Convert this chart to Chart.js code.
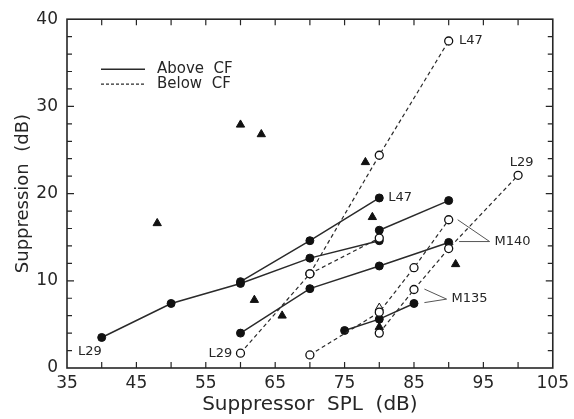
<!DOCTYPE html>
<html>
<head>
<meta charset="utf-8">
<script src="https://cdn.jsdelivr.net/npm/chart.js@4.4.0/dist/chart.umd.min.js"></script>
<style>
body{margin:0;background:#fff}
#wrap{width:574px;height:419px}
</style>
</head>
<body>
<div id="wrap"><canvas id="myChart"></canvas></div>
<script>
// suppression (dB) vs suppressor SPL (dB), points as [spl, suppression]
var l29Above=[[40,3.5],[50,7.4],[60,9.7],[70,12.6],[80,14.6]];
var l47Above=[[60,9.9],[70,14.6],[80,19.5]];
var m140AboveHi=[[80,15.8],[90,19.2]];
var m140Above=[[60,4.0],[70,9.1],[80,11.7],[90,14.4]];
var m135Above=[[75,4.3],[80,5.6],[85,7.4]];
var l29Below=[[60,1.7],[70,10.8],[80,14.9]];
var l47Below=[[70,10.8],[80,24.4],[90,37.5]];
var m140Below=[[70,1.5],[80,6.4],[85,11.5],[90,17.0]];
var l29BelowHi=[[80,4.0],[85,9.0],[90,13.7],[100,22.1]];
var otherUnits=[[48,16.6],[60,27.9],[63,26.8],[62,7.8],[66,6.0],[78,23.6],[79,17.3],[91,11.9],[80,4.7]];
var otherUnitsOpen=[[80,6.9]];

var xTicks=[35,45,55,65,75,85,95,105];
var yTicks=[0,10,20,30,40];

// unit labels: [text, spl, suppression, align]
var unitLabels=[
	['L29',38.3,1.9,'center'],
	['L29',57.1,1.7,'center'],
	['L47',91.5,37.5,'left'],
	['L47',81.3,19.5,'left'],
	['L29',100.5,23.5,'center'],
	['M140',96.6,14.5,'left'],
	['M135',90.4,7.9,'left']
];
// leader lines from points to labels: [x1,y1,x2,y2]
var leaders=[
	[91.3,17.0,95.9,14.5],[91.5,14.5,95.9,14.5],
	[86.5,9.05,89.7,7.9],[86.5,7.5,89.7,7.9]
];

var ink='#262626';

function pts(arr){
	return arr.map(function(p){return {x:p[0],y:p[1]};});
}
function series(arr,dashed,open){
	return {
		data:pts(arr),
		showLine:true,
		borderColor:'#2a2a2a',
		borderWidth:dashed?1.2:1.5,
		borderDash:dashed?[4,3]:[],
		pointStyle:'circle',
		pointRadius:4,
		pointBackgroundColor:open?'#fff':'#111',
		pointBorderColor:'#111',
		pointBorderWidth:open?1.3:1
	};
}
function markers(arr,open){
	return {
		data:pts(arr),
		showLine:false,
		pointStyle:'triangle',
		pointRadius:4.8,
		pointBackgroundColor:open?'#fff':'#111',
		pointBorderColor:'#111',
		pointBorderWidth:1
	};
}

var frameTicks={
	id:'frameTicks',
	beforeDatasetsDraw:function(chart){
		var ctx=chart.ctx,a=chart.chartArea,x=chart.scales.x,y=chart.scales.y;
		ctx.save();
		ctx.strokeStyle=ink;
		ctx.lineWidth=1.6;
		ctx.strokeRect(a.left,a.top,a.right-a.left,a.bottom-a.top);
		ctx.lineWidth=1.2;
		ctx.beginPath();
		for(var v=40;v<105;v+=5){
			var px=x.getPixelForValue(v);
			ctx.moveTo(px,a.bottom);ctx.lineTo(px,a.bottom-6);
			ctx.moveTo(px,a.top);ctx.lineTo(px,a.top+6);
		}
		for(var w=2;w<40;w+=2){
			var py=y.getPixelForValue(w);
			var len=(w%10===0)?7:5;
			ctx.moveTo(a.left,py);ctx.lineTo(a.left+len,py);
			ctx.moveTo(a.right,py);ctx.lineTo(a.right-len,py);
		}
		ctx.stroke();
		ctx.restore();
	},
	afterDatasetsDraw:function(chart){
		var ctx=chart.ctx,a=chart.chartArea,x=chart.scales.x,y=chart.scales.y;
		ctx.save();
		ctx.strokeStyle='#2a2a2a';
		// legend
		ctx.lineWidth=1.5;
		ctx.beginPath();
		ctx.moveTo(a.left+34,a.top+50);ctx.lineTo(a.left+78,a.top+50);
		ctx.stroke();
		ctx.lineWidth=1.2;
		ctx.setLineDash([3,2]);
		ctx.beginPath();
		ctx.moveTo(a.left+34,a.top+65);ctx.lineTo(a.left+78,a.top+65);
		ctx.stroke();
		ctx.setLineDash([]);
		ctx.fillStyle=ink;
		ctx.font='15px "DejaVu Sans"';
		ctx.textBaseline='middle';
		ctx.textAlign='left';
		ctx.fillText('Above  CF',a.left+90,a.top+50);
		ctx.fillText('Below  CF',a.left+90,a.top+65);
		// leader lines
		ctx.lineWidth=1;
		ctx.strokeStyle='#555';
		ctx.beginPath();
		leaders.forEach(function(l){
			ctx.moveTo(x.getPixelForValue(l[0]),y.getPixelForValue(l[1]));
			ctx.lineTo(x.getPixelForValue(l[2]),y.getPixelForValue(l[3]));
		});
		ctx.stroke();
		// unit names
		ctx.font='13px "DejaVu Sans"';
		unitLabels.forEach(function(t){
			ctx.textAlign=t[3];
			ctx.fillText(t[0],x.getPixelForValue(t[1]),y.getPixelForValue(t[2]));
		});
		ctx.restore();
	}
};

var ctx=document.getElementById('myChart').getContext('2d');
var myChart=new Chart(ctx,{
	type:'scatter',
	data:{
		datasets:[
			series(l29Below,true,true),
			series(l47Below,true,true),
			series(m140Below,true,true),
			series(l29BelowHi,true,true),
			series(l29Above,false,false),
			series(l47Above,false,false),
			series(m140AboveHi,false,false),
			series(m140Above,false,false),
			series(m135Above,false,false),
			markers(otherUnits,false),
			markers(otherUnitsOpen,true)
		]
	},
	options:{
		responsive:true,
		maintainAspectRatio:false,
		animation:false,
		layout:{padding:{top:15,right:16,left:0,bottom:0}},
		plugins:{legend:{display:false},tooltip:{enabled:false}},
		scales:{
			x:{
				type:'linear',min:35,max:105,
				afterBuildTicks:function(s){s.ticks=xTicks.map(function(v){return {value:v};});},
				afterFit:function(s){s.height=51;},
				grid:{display:false,drawTicks:false},
				border:{display:false},
				ticks:{color:ink,padding:5,font:{family:'DejaVu Sans',size:17}},
				title:{display:true,text:'Suppressor  SPL  (dB)',color:ink,font:{family:'DejaVu Sans',size:20},padding:{top:0,bottom:2}}
			},
			y:{
				type:'linear',min:0,max:40,
				afterBuildTicks:function(s){s.ticks=yTicks.map(function(v){return {value:v};});},
				afterFit:function(s){s.width=67;},
				grid:{display:false,drawTicks:false},
				border:{display:false},
				ticks:{color:ink,padding:9,font:{family:'DejaVu Sans',size:17}},
				title:{display:true,text:'Suppression  (dB)',color:ink,font:{family:'DejaVu Sans',size:18},padding:{top:13,bottom:0}}
			}
		}
	},
	plugins:[frameTicks]
});
</script>
</body>
</html>
